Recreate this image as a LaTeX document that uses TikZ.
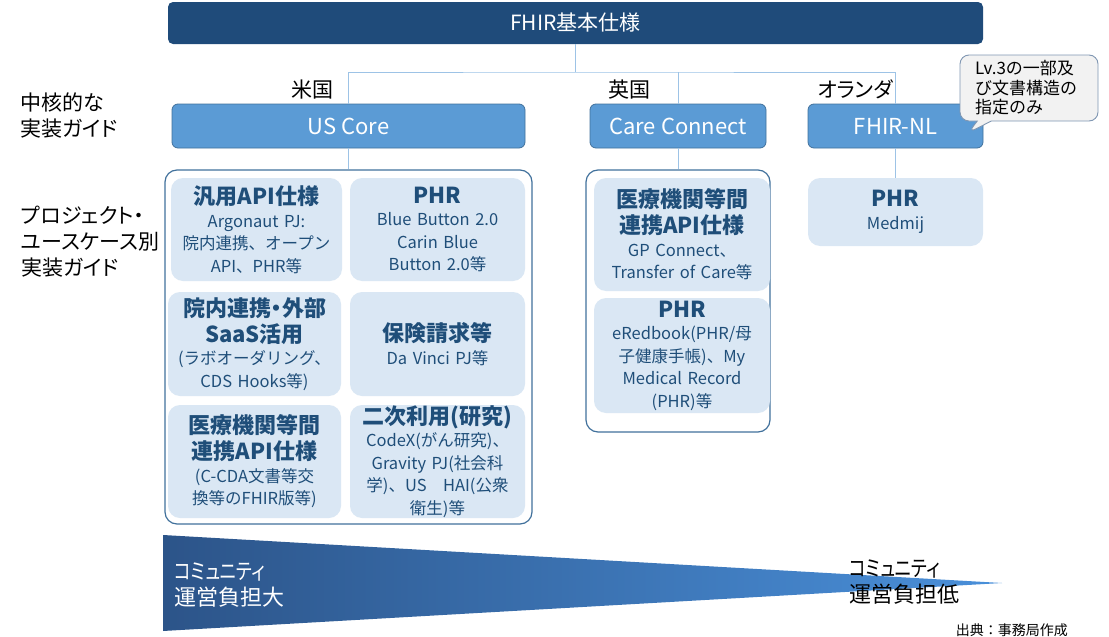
\documentclass[tikz,border=0pt]{standalone}
\usepackage{fontspec}
\usepackage{graphicx}
\setmainfont{Noto Sans CJK JP}
\newfontfamily\pf{Noto Sans CJK JP}[RawFeature=+palt]
\usetikzlibrary{shapes.callouts}
\definecolor{navy}{HTML}{1F4B7A}
\definecolor{midblue}{HTML}{5B9BD5}
\definecolor{bordblue}{HTML}{41719C}
\definecolor{lightblue}{HTML}{DAE7F4}
\definecolor{darkblue}{HTML}{1F4E79}
\definecolor{lineblue}{HTML}{9DC3E6}
\definecolor{tridark}{HTML}{2C5489}
\definecolor{trilight}{HTML}{4A90DA}
\definecolor{calloutfill}{HTML}{F2F2F2}
\definecolor{calloutborder}{HTML}{7F96B2}
\newcommand\hd[1]{{\pf\fontsize{22}{26}\selectfont\bfseries #1\par}}
\newcommand\narrow[1]{\scalebox{0.8}[1]{#1}}
\begin{document}
\begin{tikzpicture}[x=1pt,y=-1pt,
  topbox/.style={fill=navy, rounded corners=5pt, text=white, font=\pf\fontsize{21}{24}\selectfont, inner sep=0pt},
  midbox/.style={fill=midblue, draw=bordblue, line width=0.8pt, rounded corners=6pt, text=white, font=\pf\fontsize{22}{24}\selectfont, inner sep=0pt, minimum height=44pt},
  grp/.style={draw=bordblue, line width=1.2pt, rounded corners=12pt, fill=white, inner sep=0pt},
  ibox/.style={fill=lightblue, rounded corners=12pt, text=darkblue, align=center, font=\fontsize{16.5}{22.5}\selectfont, inner sep=0pt},
  conn/.style={draw=lineblue, line width=0.9pt},
  lab/.style={font=\pf\fontsize{21}{26}\selectfont, align=left, inner sep=0pt, text=black}
]
\useasboundingbox (0,0) rectangle (1109,637);

% top
\node[topbox, minimum width=815pt, minimum height=42pt] (top) at (575.5,23) {FHIR基本仕様};

% core guides
\node[midbox, minimum width=353pt] (us) at (348.5,126) {US Core};
\node[midbox, minimum width=176pt] (care) at (678,126) {Care Connect};
\node[midbox, minimum width=175pt] (nl) at (895.5,126) {FHIR-NL};

% connectors
\coordinate (bus) at (575.5,72);
\draw[conn] (top.south) -- (bus);
\draw[conn] (us.north) |- (bus) -| (nl.north);
\draw[conn] (care.north) -- (care.north |- bus);

% country labels
\node[lab, anchor=south east] (usa) at (334,99) {米国};
\node[lab, anchor=south east] (uk) at (651,99) {英国};
\node[lab, anchor=south east] (nld) at (893,99) {オランダ};

% left labels
\node[lab, anchor=west] (core) at (20,115.5) {中核的な\\実装ガイド};
\node[lab, anchor=west] (proj) at (21,241.5) {プロジェクト・\\ユースケース別\\実装ガイド};

% groups
\node[grp, minimum width=367pt, minimum height=354pt] (usgrp) at (348.5,347) {};
\node[grp, minimum width=184pt, minimum height=262pt] (caregrp) at (678,301) {};
\draw[conn] (us.south) -- (usgrp.north);
\draw[conn] (care.south) -- (caregrp.north);

% US inner boxes
\node[ibox, minimum width=171pt, minimum height=103pt, text width=169pt] (a1) at (256.5,229.5)
  {\hd{汎用API仕様}Argonaut PJ:\\院内連携、オープン\\API、PHR等};
\node[ibox, minimum width=175pt, minimum height=103pt, text width=173pt] (a2) at (437.5,229.5)
  {\hd{PHR}Blue Button 2.0\\Carin Blue\\Button 2.0等};
\node[ibox, minimum width=173pt, minimum height=104pt, text width=171pt] (b1) at (254.5,344)
  {\hd{院内連携・外部\\SaaS活用}(ラボオーダリング、\\CDS Hooks等)};
\node[ibox, minimum width=175pt, minimum height=104pt, text width=173pt] (b2) at (437.5,344)
  {\hd{保険請求等}Da Vinci PJ等};
\node[ibox, minimum width=173pt, minimum height=113pt, text width=171pt] (c1) at (254.5,461.5)
  {\hd{医療機関等間\\連携API仕様}(C-CDA文書等交\\換等のFHIR版等)};
\node[ibox, minimum width=175pt, minimum height=113pt, text width=173pt] (c2) at (437.5,461.5)
  {\hd{二次利用(研究)}CodeX(がん研究)、\\Gravity PJ(社会科\\学)、US　HAI(公衆\\衛生)等};

% Care Connect inner boxes
\node[ibox, minimum width=176pt, minimum height=113pt, text width=174pt] (d1) at (682,234.5)
  {\hd{医療機関等間\\連携API仕様}GP Connect、\\Transfer of Care等};
\node[ibox, minimum width=176pt, minimum height=115pt, text width=174pt] (d2) at (682,355.5)
  {\hd{PHR}eRedbook(PHR/母\\子健康手帳)、My\\Medical Record\\(PHR)等};

% FHIR-NL
\node[ibox, minimum width=175pt, minimum height=68pt, text width=173pt] (nlphr) at (895.5,212)
  {\hd{PHR}Medmij};
\draw[conn] (nl.south) -- (nlphr.north);

% callout
\node[rectangle callout, callout absolute pointer={(968,133)}, callout pointer width=14pt,
  draw=calloutborder, fill=calloutfill, line width=0.9pt, rounded corners=9pt,
  text width=108pt, inner xsep=15pt, minimum height=66pt, align=left,
  font=\fontsize{17}{19.5}\selectfont, text=black] (note) at (1029,88)
  {Lv.3の一部及\\び文書構造の\\指定のみ};

% burden triangle
\shade[left color=tridark, right color=trilight] (163,535) -- (1002,583) -- (163,631) -- cycle;
\node[lab, anchor=west, text=white, font=\pf\fontsize{22}{26}\selectfont] (high) at (174,585) {\narrow{コミュニティ}\\運営負担大};
\node[lab, anchor=west, font=\pf\fontsize{22}{26}\selectfont] (low) at (849,582) {\narrow{コミュニティ}\\運営負担低};
\node[lab, anchor=east, font=\fontsize{14}{16}\selectfont] (src) at (1068,630) {出典：事務局作成};
\end{tikzpicture}
\end{document}
